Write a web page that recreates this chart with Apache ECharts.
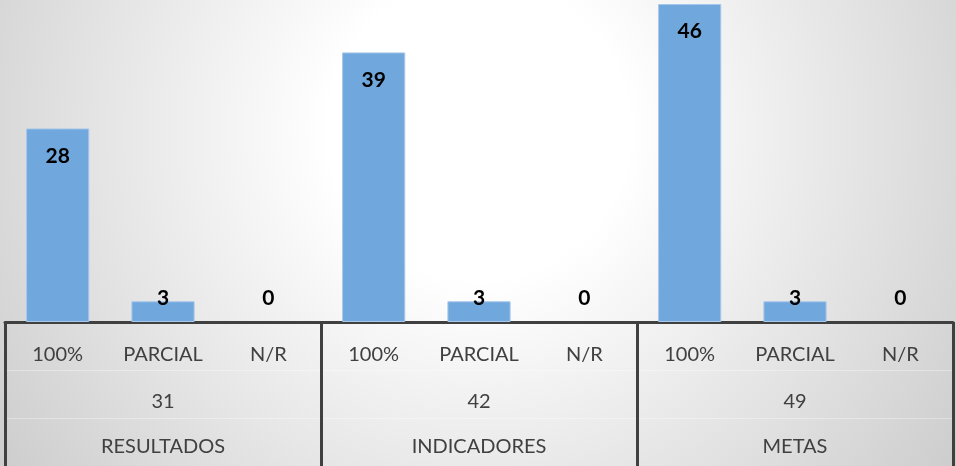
<!DOCTYPE html>
<html>
<head>
<meta charset="utf-8">
<script src="https://cdn.jsdelivr.net/npm/echarts@6/dist/echarts.min.js"></script>
<style>
html,body{margin:0;padding:0;}
#chart{width:956px;height:466px;}
</style>
</head>
<body>
<div id="chart"></div>
<script>
var categories = ['100%', 'PARCIAL', 'N/R', '100%', 'PARCIAL', 'N/R', '100%', 'PARCIAL', 'N/R'];
var values = [28, 3, 0, 39, 3, 0, 46, 3, 0];
var totals = ['31', '42', '49'];
var groups = ['RESULTADOS', 'INDICADORES', 'METAS'];

var FONT = 'Lato, "Liberation Sans", sans-serif';
var TEXT = '#404040';

var chart = echarts.init(document.getElementById('chart'), null, {renderer: 'canvas'});

var barData = values.map(function (v) {
  var small = v < 5;
  var d = {
    value: v,
    label: small
      ? {position: 'insideBottom', distance: 13}
      : {position: 'insideTop', distance: 17}
  };
  if (v === 0) d.itemStyle = {borderWidth: 0};
  return d;
});

function plainAxis(data, extra) {
  var base = {
    type: 'category',
    position: 'bottom',
    data: data,
    axisLine: {show: false},
    axisTick: {show: false},
    axisLabel: {show: false},
    splitLine: {show: false}
  };
  return Object.assign(base, extra);
}

chart.setOption({
  backgroundColor: {
    type: 'radial', x: 0.5, y: 0.28, r: 1.29,
    colorStops: [
      {offset: 0, color: '#ffffff'},
      {offset: 0.25, color: '#ffffff'},
      {offset: 1, color: '#cbcbcb'}
    ]
  },
  animation: false,
  grid: {left: 5, right: 3, top: 4, bottom: 144, containLabel: false},
  xAxis: [
    plainAxis(categories, {
      axisLine: {show: true, lineStyle: {color: TEXT, width: 3}},
      axisLabel: {show: true, fontFamily: FONT, fontSize: 20, color: TEXT, margin: 23, interval: 0}
    }),
    plainAxis(totals, {
      axisTick: {show: true, length: 146, lineStyle: {color: TEXT, width: 3}},
      axisLabel: {show: true, fontFamily: FONT, fontSize: 20, color: TEXT, margin: 70, interval: 0}
    }),
    plainAxis(groups, {
      axisLabel: {show: true, fontFamily: FONT, fontSize: 20, color: TEXT, margin: 115, interval: 0}
    }),
    plainAxis(groups, {
      offset: 48,
      axisLine: {show: true, lineStyle: {color: 'rgba(255,255,255,0.35)', width: 1}}
    }),
    plainAxis(groups, {
      offset: 96,
      axisLine: {show: true, lineStyle: {color: 'rgba(255,255,255,0.35)', width: 1}}
    })
  ],
  yAxis: {
    type: 'value', min: 0, max: 46, show: false,
    splitLine: {show: false}
  },
  series: [{
    type: 'bar',
    xAxisIndex: 0,
    data: barData,
    barWidth: '60%',
    itemStyle: {color: '#70a7dc', borderColor: '#a7c8ea', borderWidth: 1},
    label: {
      show: true,
      color: '#000000',
      fontFamily: FONT,
      fontWeight: 'bold',
      fontSize: 21
    }
  }]
});
</script>
</body>
</html>
